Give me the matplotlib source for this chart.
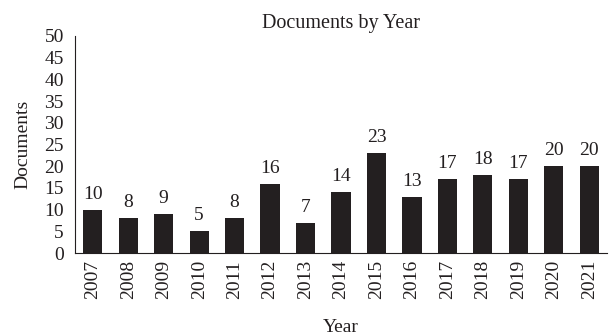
import matplotlib
matplotlib.use("Agg")
import matplotlib.pyplot as plt

years = [str(y) for y in range(2007, 2022)]
documents = [10, 8, 9, 5, 8, 16, 7, 14, 23, 13, 17, 18, 17, 20, 20]

plt.rcParams["font.family"] = ["Liberation Serif", "DejaVu Serif"]
plt.rcParams["font.size"] = 14

fig = plt.figure(figsize=(6.09, 3.36), dpi=100)
ax = fig.add_axes([75 / 609, 1 - 253 / 336, 532 / 609, 217 / 336])

x = range(len(years))
ax.bar(x, documents, width=0.54, color="#231f20")
for xi, v in zip(x, documents):
    ax.annotate(str(v), (xi, v), xytext=(0, 5), textcoords="offset points",
                ha="center", va="bottom", fontsize=14, color="#231f20")

ax.set_xlim(-0.5, len(years) - 0.5)
ax.set_ylim(0, 50)
ax.set_yticks(range(0, 51, 5))
ax.set_xticks(list(x))
ax.set_xticklabels(years, rotation=90)
ax.tick_params(axis="both", length=0, colors="#231f20")
ax.tick_params(axis="y", pad=8)
ax.tick_params(axis="x", pad=5)
ax.spines["top"].set_visible(False)
ax.spines["right"].set_visible(False)
for s in ("left", "bottom"):
    ax.spines[s].set_color("#231f20")
    ax.spines[s].set_linewidth(0.8)

ax.set_title("Documents by Year", fontsize=14.5, color="#231f20", pad=6)
ax.set_ylabel("Documents", fontsize=14, color="#231f20", labelpad=9)
ax.set_xlabel("Year", fontsize=14, color="#231f20", labelpad=14)

fig.savefig("out.png", dpi=100)
